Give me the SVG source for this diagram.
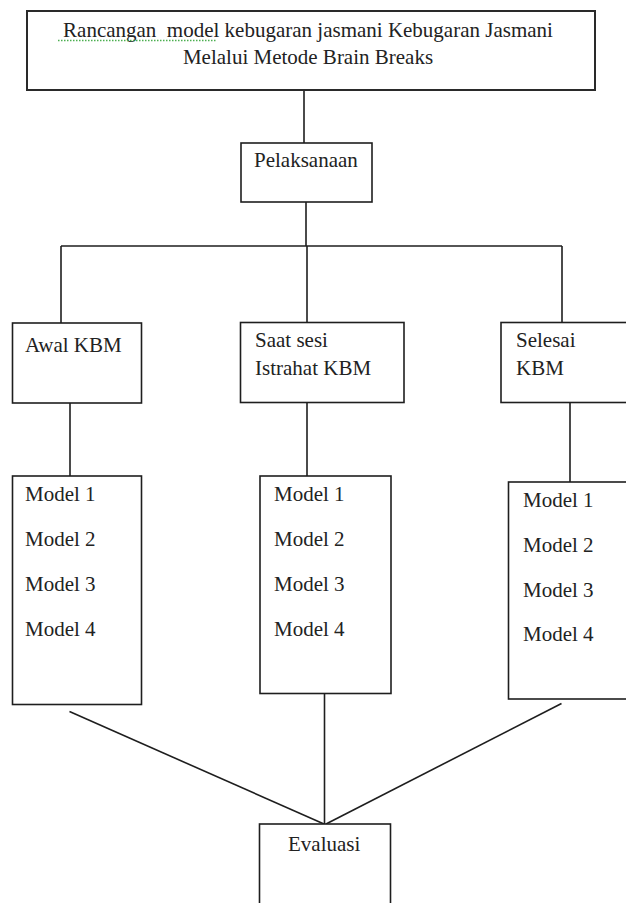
<svg xmlns="http://www.w3.org/2000/svg" width="626" height="903" viewBox="0 0 626 903">
<style>
.box{fill:#fff;stroke:#1e1e1e;stroke-width:1.6}
.top{fill:#fff;stroke:#2a2a2a;stroke-width:2}
.ln{stroke:#1e1e1e;stroke-width:1.6;fill:none}
text{font-family:"Liberation Serif","Times New Roman",serif;font-size:21px;fill:#222}
.c{text-anchor:middle}
.spell{stroke:#4caf50;stroke-width:1.4;stroke-dasharray:1.5 1.5}
</style>
<rect width="626" height="903" fill="#fff"/>
<g id="connectors">
<line class="ln" x1="304" y1="90" x2="304" y2="143"/>
<line class="ln" x1="306" y1="202" x2="306" y2="246"/>
<line class="ln" x1="61" y1="246" x2="562" y2="246"/>
<line class="ln" x1="61" y1="246" x2="61" y2="323"/>
<line class="ln" x1="307" y1="246" x2="307" y2="323"/>
<line class="ln" x1="562" y1="246" x2="562" y2="323"/>
<line class="ln" x1="70" y1="397" x2="70" y2="476"/>
<line class="ln" x1="307" y1="402" x2="307" y2="476"/>
<line class="ln" x1="570" y1="403" x2="570" y2="482"/>
<line class="ln" x1="324.5" y1="693" x2="324.5" y2="824"/>
<line class="ln" x1="69.5" y1="711.5" x2="324" y2="824"/>
<line class="ln" x1="561.5" y1="703.5" x2="326" y2="824"/>
</g>
<g id="n-title">
<rect class="top" x="27" y="11" width="568" height="79"/>
<text class="c" x="308" y="37" style="white-space:pre">Rancangan  model kebugaran jasmani Kebugaran Jasmani</text>
<line class="spell" x1="58" y1="40.5" x2="217" y2="40.5"/>
<text class="c" x="308" y="64">Melalui Metode Brain Breaks</text>
</g>
<g id="n-pelaksanaan">
<rect class="box" x="241" y="143" width="131" height="59"/>
<text x="254" y="167">Pelaksanaan</text>
</g>
<g id="n-awal">
<rect class="box" x="12.5" y="323" width="129" height="80"/>
<text x="25" y="352">Awal KBM</text>
</g>
<g id="n-saat">
<rect class="box" x="240.5" y="322.5" width="163.5" height="80"/>
<text x="255" y="347">Saat sesi</text>
<text x="255" y="375">Istrahat KBM</text>
</g>
<g id="n-selesai">
<rect class="box" x="501" y="322.5" width="140" height="80"/>
<text x="516" y="347">Selesai</text>
<text x="516" y="375">KBM</text>
</g>
<g id="n-model-left">
<rect class="box" x="12.5" y="476" width="129" height="228.5"/>
<text x="25" y="501">Model 1</text>
<text x="25" y="546">Model 2</text>
<text x="25" y="591">Model 3</text>
<text x="25" y="636">Model 4</text>
</g>
<g id="n-model-mid">
<rect class="box" x="260" y="476" width="131" height="217.5"/>
<text x="274" y="501">Model 1</text>
<text x="274" y="546">Model 2</text>
<text x="274" y="591">Model 3</text>
<text x="274" y="636">Model 4</text>
</g>
<g id="n-model-right">
<rect class="box" x="508.5" y="482" width="140" height="217"/>
<text x="523" y="507">Model 1</text>
<text x="523" y="552">Model 2</text>
<text x="523" y="597">Model 3</text>
<text x="523" y="641">Model 4</text>
</g>
<g id="n-evaluasi">
<rect class="box" x="259.5" y="824" width="131" height="100"/>
<text x="288" y="851">Evaluasi</text>
</g>
</svg>
